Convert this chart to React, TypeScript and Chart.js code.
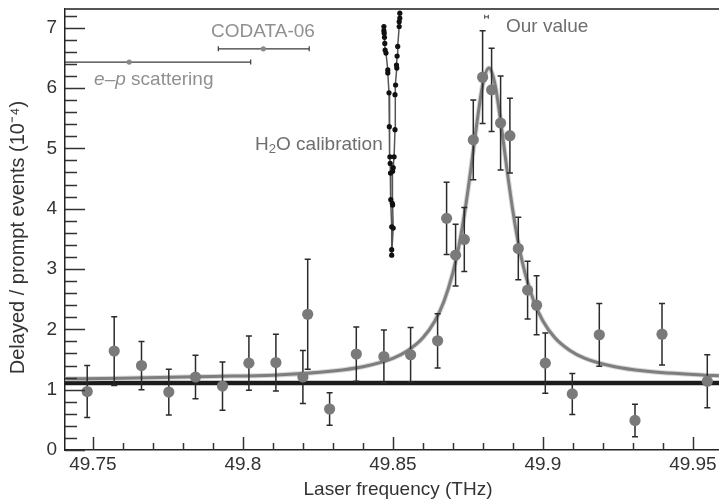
import React, { useEffect, useRef } from "react";
import { Chart, registerables } from "chart.js";

Chart.register(...registerables);

const FONT = '"Liberation Sans", Arial, Helvetica, sans-serif';

// Measured muonic-hydrogen resonance points
const FREQ = [49.7481, 49.7571, 49.7662, 49.7753, 49.7842, 49.7932, 49.802, 49.811, 49.82, 49.8216, 49.8289, 49.8378, 49.847, 49.8559, 49.8649, 49.8679, 49.8709, 49.8738, 49.8768, 49.8799, 49.8829, 49.8859, 49.889, 49.8918, 49.8949, 49.8979, 49.9008, 49.9098, 49.9188, 49.9307, 49.9397, 49.9548];
const RATIO = [0.97, 1.64, 1.4, 0.96, 1.21, 1.06, 1.44, 1.45, 1.21, 2.25, 0.68, 1.59, 1.55, 1.58, 1.81, 3.84, 3.23, 3.49, 5.14, 6.18, 5.97, 5.42, 5.21, 3.34, 2.65, 2.4, 1.44, 0.93, 1.91, 0.49, 1.92, 1.14];
const ERR = [0.43, 0.57, 0.4, 0.38, 0.36, 0.4, 0.45, 0.47, 0.44, 0.91, 0.27, 0.45, 0.44, 0.45, 0.45, 0.6, 0.51, 0.53, 0.66, 0.77, 0.69, 0.78, 0.62, 0.52, 0.48, 0.49, 0.5, 0.34, 0.52, 0.27, 0.51, 0.44];

// Fitted resonance curve
const FIT_FREQ = [49.7407, 49.76, 49.79, 49.81, 49.83, 49.84, 49.85, 49.855, 49.86, 49.864, 49.867, 49.87, 49.872, 49.874, 49.876, 49.878, 49.88, 49.882, 49.884, 49.886, 49.888, 49.89, 49.892, 49.894, 49.897, 49.9, 49.904, 49.909, 49.914, 49.924, 49.934, 49.954, 49.9587];
const FIT_VAL = [1.18, 1.19, 1.22, 1.24, 1.31, 1.38, 1.52, 1.65, 1.86, 2.14, 2.46, 2.94, 3.38, 3.96, 4.66, 5.42, 6.07, 6.33, 6.07, 5.42, 4.66, 3.96, 3.38, 2.94, 2.46, 2.14, 1.86, 1.65, 1.52, 1.38, 1.31, 1.24, 1.23];

// Background level
const BASELINE = 1.11;

// H2O calibration scan
const H2O_FREQ = [49.847, 49.847, 49.8471, 49.8472, 49.8473, 49.8474, 49.8477, 49.8483, 49.8483, 49.8487, 49.8488, 49.849, 49.8491, 49.8492, 49.8493, 49.8496, 49.8496, 49.8496, 49.8501, 49.8499, 49.8498, 49.8499, 49.8501, 49.8504, 49.8507, 49.8507, 49.8509, 49.8513, 49.8512, 49.8514, 49.8516, 49.8521, 49.8521, 49.8523, 49.8523];
const H2O_VAL = [7.02, 6.95, 6.91, 6.84, 6.74, 6.63, 6.58, 6.3, 6.25, 5.92, 5.36, 4.86, 4.75, 4.59, 4.15, 3.7, 3.32, 3.23, 3.68, 4.06, 4.09, 4.62, 4.68, 4.86, 5.31, 5.89, 6.05, 6.33, 6.38, 6.53, 6.69, 7.02, 7.1, 7.16, 7.24];

// Reference values (horizontal error bars)
const REF_NAMES = ["CODATA-06", "e–p scattering"];
const REF_FREQ = [49.8068, 49.7621];
const REF_VAL = [6.65, 6.43];
const REF_LOW = [49.7918, 49.7216];
const REF_HIGH = [49.8221, 49.8026];

const OUR_FREQ = 49.8812;
const OUR_VAL = 7.18;
const OUR_ERR = 0.0006;

const X_TICKS = [49.75, 49.8, 49.85, 49.9, 49.95];
const X_TICK_LABELS = ["49.75", "49.8", "49.85", "49.9", "49.95"];
const Y_TICKS = [0, 1, 2, 3, 4, 5, 6, 7];
const Y_TICK_LABELS = ["0", "1", "2", "3", "4", "5", "6", "7"];
const X_MIN = 49.7407;
const X_MAX = 49.9587;
const Y_MIN = 0;
const Y_MAX = 7.31;

const X_TITLE = "Laser frequency (THz)";
const Y_TITLE = "Delayed / prompt events (10⁻⁴)";

// Text annotation anchors (data units)
const ANNOT = {
  codata: { x: 49.8067, y: 6.93 },
  ep: { x: 49.7504, y: 6.14 },
  h2o: { x: 49.8466, y: 5.06 },
  ours: { x: 49.8877, y: 7.01 },
};

const POINTS_INDEX = 4;

const overlay = {
  id: "overlay",
  beforeDatasetDraw(chart: any, args: any) {
    if (args.index !== POINTS_INDEX) return;
    const { ctx } = chart;
    const xs = chart.scales.x;
    const ys = chart.scales.y;
    ctx.save();
    ctx.strokeStyle = "#2b2b2b";
    ctx.lineWidth = 1.5;
    FREQ.forEach((f, i) => {
      const px = xs.getPixelForValue(f);
      const top = ys.getPixelForValue(RATIO[i] + ERR[i]);
      const bot = ys.getPixelForValue(RATIO[i] - ERR[i]);
      ctx.beginPath();
      ctx.moveTo(px, top);
      ctx.lineTo(px, bot);
      ctx.moveTo(px - 3, top);
      ctx.lineTo(px + 3, top);
      ctx.moveTo(px - 3, bot);
      ctx.lineTo(px + 3, bot);
      ctx.stroke();
    });
    ctx.restore();
  },
  afterDatasetsDraw(chart: any) {
    const { ctx, chartArea } = chart;
    const xs = chart.scales.x;
    const ys = chart.scales.y;
    ctx.save();
    ctx.beginPath();
    ctx.rect(chartArea.left, chartArea.top - 20, chartArea.right - chartArea.left, chartArea.bottom - chartArea.top + 20);
    ctx.clip();

    // reference horizontal error bars
    REF_FREQ.forEach((f, i) => {
      const py = ys.getPixelForValue(REF_VAL[i]);
      const l = xs.getPixelForValue(REF_LOW[i]);
      const r = xs.getPixelForValue(REF_HIGH[i]);
      ctx.strokeStyle = "#3a3a3a";
      ctx.lineWidth = 1.2;
      ctx.beginPath();
      ctx.moveTo(l, py);
      ctx.lineTo(r, py);
      ctx.moveTo(l, py - 2.5);
      ctx.lineTo(l, py + 2.5);
      ctx.moveTo(r, py - 2.5);
      ctx.lineTo(r, py + 2.5);
      ctx.stroke();
      ctx.fillStyle = "#8a8a8a";
      ctx.beginPath();
      ctx.arc(xs.getPixelForValue(f), py, 2.6, 0, Math.PI * 2);
      ctx.fill();
    });

    // our value
    {
      const py = ys.getPixelForValue(OUR_VAL);
      const l = xs.getPixelForValue(OUR_FREQ - OUR_ERR);
      const r = xs.getPixelForValue(OUR_FREQ + OUR_ERR);
      ctx.strokeStyle = "#444";
      ctx.lineWidth = 1;
      ctx.beginPath();
      ctx.moveTo(l, py);
      ctx.lineTo(r, py);
      ctx.moveTo(l, py - 2);
      ctx.lineTo(l, py + 2);
      ctx.moveTo(r, py - 2);
      ctx.lineTo(r, py + 2);
      ctx.stroke();
    }
    ctx.restore();

    // text annotations
    ctx.save();
    ctx.textBaseline = "middle";
    ctx.font = `19px ${FONT}`;
    ctx.fillStyle = "#909090";
    ctx.textAlign = "center";
    ctx.fillText(REF_NAMES[0], xs.getPixelForValue(ANNOT.codata.x), ys.getPixelForValue(ANNOT.codata.y));

    ctx.textAlign = "left";
    {
      let px = xs.getPixelForValue(ANNOT.ep.x);
      const py = ys.getPixelForValue(ANNOT.ep.y);
      ctx.font = `italic 19px ${FONT}`;
      ctx.fillText("e–p", px, py);
      px += ctx.measureText("e–p").width;
      ctx.font = `19px ${FONT}`;
      ctx.fillText(" scattering", px, py);
    }

    {
      ctx.fillStyle = "#6e6e6e";
      const right = xs.getPixelForValue(ANNOT.h2o.x);
      const py = ys.getPixelForValue(ANNOT.h2o.y);
      ctx.font = `19px ${FONT}`;
      const wH = ctx.measureText("H").width;
      const wRest = ctx.measureText("O calibration").width;
      ctx.font = `13px ${FONT}`;
      const w2 = ctx.measureText("2").width;
      let px = right - (wH + w2 + wRest);
      ctx.font = `19px ${FONT}`;
      ctx.fillText("H", px, py);
      px += wH;
      ctx.font = `13px ${FONT}`;
      ctx.fillText("2", px, py + 5);
      px += w2;
      ctx.font = `19px ${FONT}`;
      ctx.fillText("O calibration", px, py);
    }

    ctx.fillStyle = "#6e6e6e";
    ctx.font = `19px ${FONT}`;
    ctx.fillText("Our value", xs.getPixelForValue(ANNOT.ours.x), ys.getPixelForValue(ANNOT.ours.y));
    ctx.restore();

    // inward tick marks
    ctx.save();
    ctx.strokeStyle = "#333";
    ctx.lineWidth = 1.5;
    ctx.beginPath();
    const left = chartArea.left;
    const bottom = chartArea.bottom;
    for (let k = 0; k <= 36; k++) {
      const v = k * 0.2;
      if (v > Y_MAX) break;
      const py = Math.round(ys.getPixelForValue(v)) + 0.5;
      const len = k % 5 === 0 ? 20 : 12;
      ctx.moveTo(left, py);
      ctx.lineTo(left + len, py);
    }
    for (let k = 0; k <= 20; k++) {
      const v = 49.75 + k * 0.01;
      const px = Math.round(xs.getPixelForValue(v)) + 0.5;
      if (px > chartArea.right) break;
      const len = k % 5 === 0 ? 13 : 7;
      ctx.moveTo(px, bottom);
      ctx.lineTo(px, bottom - len);
    }
    ctx.stroke();

    // top frame line
    ctx.strokeStyle = "#555";
    ctx.lineWidth = 2;
    ctx.beginPath();
    ctx.moveTo(left, chartArea.top);
    ctx.lineTo(chartArea.right, chartArea.top);
    ctx.stroke();
    ctx.restore();

    // axis titles
    ctx.save();
    ctx.fillStyle = "#333";
    ctx.textAlign = "center";
    ctx.textBaseline = "middle";
    ctx.font = `19px ${FONT}`;
    ctx.fillText(X_TITLE, (chartArea.left + chartArea.right) / 2 + 6, chartArea.bottom + 40);
    ctx.translate(18, (chartArea.top + chartArea.bottom) / 2 + 8);
    ctx.rotate(-Math.PI / 2);
    ctx.font = `20px ${FONT}`;
    ctx.fillText(Y_TITLE, 0, 0);
    ctx.restore();
  },
};

export default function App() {
  const ref = useRef<HTMLCanvasElement>(null);

  useEffect(() => {
    document.body.style.margin = "0";
    const canvas = ref.current;
    if (!canvas) return;
    const xy = (xs: number[], ys: number[]) => xs.map((x, i) => ({ x, y: ys[i] }));

    const chart = new Chart(canvas, {
      type: "scatter",
      data: {
        datasets: [
          {
            label: "background",
            data: [
              { x: X_MIN, y: BASELINE },
              { x: X_MAX, y: BASELINE },
            ],
            showLine: true,
            borderColor: "#1c1c1c",
            borderWidth: 4.5,
            pointRadius: 0,
            order: 6,
          },
          {
            label: "fit halo",
            data: xy(FIT_FREQ, FIT_VAL),
            showLine: true,
            borderColor: "rgba(205,205,205,0.8)",
            borderWidth: 5,
            pointRadius: 0,
            cubicInterpolationMode: "monotone",
            order: 5,
          },
          {
            label: "fit",
            data: xy(FIT_FREQ, FIT_VAL),
            showLine: true,
            borderColor: "#7e7e7e",
            borderWidth: 3,
            pointRadius: 0,
            cubicInterpolationMode: "monotone",
            order: 4,
          },
          {
            label: "H2O calibration",
            data: xy(H2O_FREQ, H2O_VAL),
            showLine: true,
            borderColor: "#555",
            borderWidth: 1.5,
            pointRadius: 2.6,
            pointBackgroundColor: "#111",
            pointBorderWidth: 0,
            order: 3,
          },
          {
            label: "delayed / prompt",
            data: xy(FREQ, RATIO),
            pointRadius: 5.6,
            pointBackgroundColor: "#7a7a7a",
            pointBorderWidth: 0,
            order: 1,
          },
        ],
      },
      options: {
        animation: false,
        responsive: true,
        maintainAspectRatio: false,
        events: [],
        layout: { autoPadding: false, padding: { top: 9, left: 0, right: 0, bottom: 0 } },
        plugins: { legend: { display: false }, tooltip: { enabled: false } },
        scales: {
          x: {
            type: "linear",
            min: X_MIN,
            max: X_MAX,
            afterBuildTicks: (s: any) => {
              s.ticks = X_TICKS.map((v) => ({ value: v }));
            },
            afterFit: (s: any) => {
              s.height = 52;
              s.paddingLeft = 0;
              s.paddingRight = 0;
            },
            grid: { display: false, drawTicks: false },
            border: { display: true, color: "#222", width: 1.5 },
            ticks: {
              font: { family: FONT, size: 19 },
              color: "#333",
              padding: 3,
              autoSkip: false,
              maxRotation: 0,
              callback: (v: any) => {
                const i = X_TICKS.findIndex((t) => Math.abs(t - v) < 1e-6);
                return i >= 0 ? X_TICK_LABELS[i] : "";
              },
            },
            title: { display: false },
          },
          y: {
            type: "linear",
            min: Y_MIN,
            max: Y_MAX,
            afterBuildTicks: (s: any) => {
              s.ticks = Y_TICKS.map((v) => ({ value: v }));
            },
            afterFit: (s: any) => {
              s.width = 65;
              s.paddingTop = 0;
              s.paddingBottom = 0;
            },
            grid: { display: false, drawTicks: false },
            border: { display: true, color: "#222", width: 1.5 },
            ticks: {
              font: { family: FONT, size: 19 },
              color: "#333",
              padding: 8,
              autoSkip: false,
              callback: (v: any) => {
                const i = Y_TICKS.findIndex((t) => Math.abs(t - v) < 1e-6);
                return i >= 0 ? Y_TICK_LABELS[i] : "";
              },
            },
            title: { display: false },
          },
        },
      },
      plugins: [overlay],
    } as any);

    return () => chart.destroy();
  }, []);

  return (
    <div style={{ position: "relative", width: 719, height: 502 }}>
      <canvas ref={ref} />
    </div>
  );
}
